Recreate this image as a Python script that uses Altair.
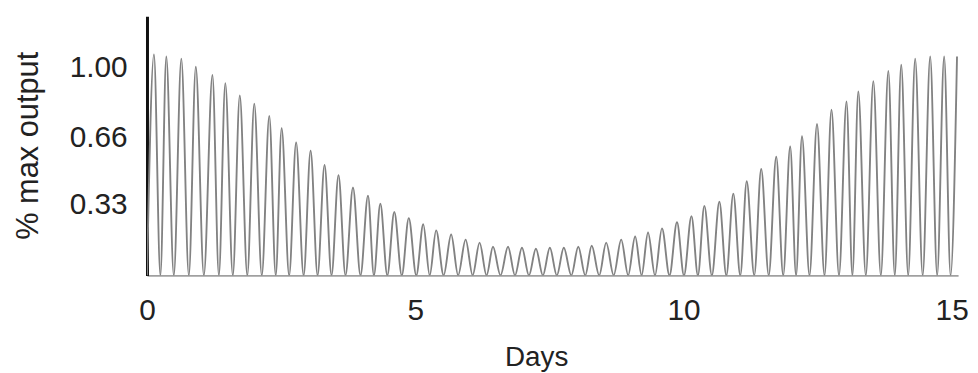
import altair as alt
import pandas as pd

# Peak times (days) and peak heights (fraction of max output)
peak_days = [0.13, 0.36, 0.64, 0.91, 1.22, 1.46, 1.73, 2.00, 2.28, 2.51, 2.78, 3.05, 3.31, 3.57,
             3.84, 4.12, 4.35, 4.61, 4.88, 5.15, 5.39, 5.67, 5.94, 6.20, 6.45, 6.73, 6.99, 7.25, 7.51,
             7.77, 8.04, 8.29, 8.56, 8.84, 9.10, 9.34, 9.60, 9.88, 10.15, 10.39, 10.67, 10.93, 11.18,
             11.45, 11.73, 11.99, 12.21, 12.49, 12.76, 13.04, 13.26, 13.54, 13.82, 14.06, 14.32, 14.60, 14.86, 15.10]
peak_vals = [1.08, 1.07, 1.06, 1.02, 0.98, 0.94, 0.88, 0.84, 0.78, 0.72, 0.65, 0.61, 0.54, 0.49,
             0.43, 0.39, 0.35, 0.31, 0.28, 0.25, 0.22, 0.20, 0.175, 0.16, 0.14, 0.14, 0.135, 0.13, 0.135,
             0.135, 0.14, 0.145, 0.16, 0.175, 0.19, 0.21, 0.23, 0.26, 0.29, 0.34, 0.36, 0.40, 0.46,
             0.52, 0.58, 0.63, 0.68, 0.74, 0.81, 0.85, 0.90, 0.95, 1.00, 1.03, 1.06, 1.07, 1.07, 1.07]
# Trough times (days), output drops to zero between the peaks
trough_days = [0.00, 0.25, 0.50, 0.78, 1.06, 1.34, 1.60, 1.87, 2.14, 2.40, 2.65, 2.92, 3.18, 3.44,
               3.70, 3.98, 4.23, 4.48, 4.75, 5.02, 5.27, 5.53, 5.80, 6.07, 6.33, 6.59, 6.86, 7.12, 7.38,
               7.64, 7.91, 8.17, 8.43, 8.70, 8.97, 9.22, 9.47, 9.74, 10.01, 10.27, 10.53, 10.80, 11.06,
               11.32, 11.59, 11.86, 12.10, 12.35, 12.63, 12.90, 13.15, 13.40, 13.68, 13.94, 14.19, 14.46, 14.73, 14.98]
trough_vals = [0.0] * len(trough_days)

x_ticks = [0, 5, 10, 15]
y_ticks = [0.33, 0.66, 1.00]

rows = []
for td, tv, pd_, pv in zip(trough_days, trough_vals, peak_days, peak_vals):
    rows.append({"day": td, "out": tv})
    rows.append({"day": pd_, "out": pv})
df = pd.DataFrame(rows)

FONT = "Liberation Sans"

chart = alt.Chart(df).mark_line(
    color="#828282", strokeWidth=1.9, interpolate="monotone", clip=True
).encode(
    x=alt.X("day:Q", scale=alt.Scale(domain=[0, 15.12], nice=False, zero=False),
            axis=alt.Axis(values=x_ticks, format="d", title="Days", ticks=False, grid=False,
                          domain=True, domainColor="#a0a0a0", domainWidth=2,
                          labelFont=FONT, labelFontSize=30, labelColor="#222222",
                          labelPadding=20, labelFlush=False,
                          titleFont=FONT, titleFontSize=28, titleFontWeight="normal",
                          titleColor="#222222", titleX=392, titleY=91,
                          titleBaseline="alphabetic")),
    y=alt.Y("out:Q", scale=alt.Scale(domain=[0, 1.267], nice=False),
            axis=alt.Axis(values=y_ticks, format=".2f", title="% max output", ticks=False,
                          grid=False, domain=True, domainColor="#111111", domainWidth=3,
                          labelFont=FONT, labelFontSize=30, labelColor="#222222",
                          labelPadding=20, labelOffset=-3,
                          titleFont=FONT, titleFontSize=31, titleFontWeight="normal",
                          titleColor="#222222", titleX=-110, titleY=130,
                          titleBaseline="alphabetic", titleAngle=-90)),
).properties(
    width=817, height=261,
    background="white",
    autosize=alt.AutoSizeParams(type="none"),
    padding={"left": 140, "top": 7, "right": 12, "bottom": 97},
).configure_view(stroke=None, strokeWidth=0)

chart.save("out.html", embed_options={"renderer": "svg", "actions": False})
